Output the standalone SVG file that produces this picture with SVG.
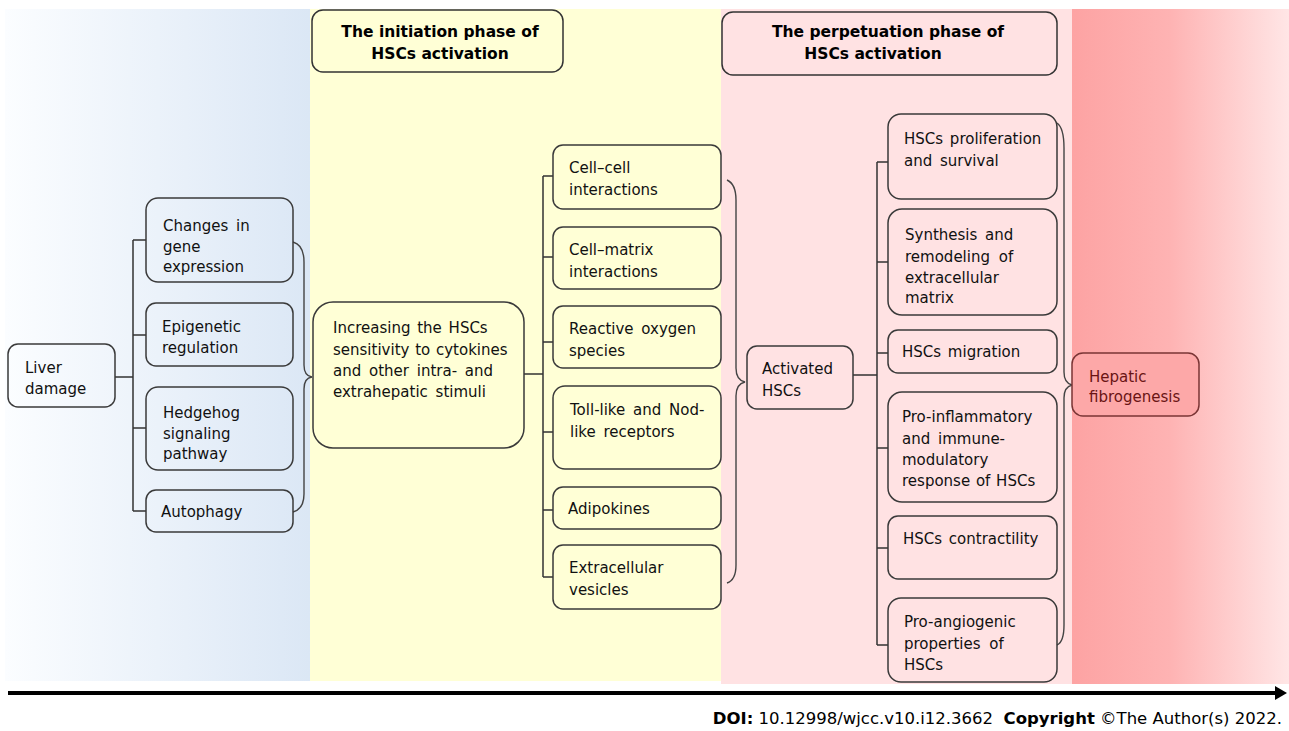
<svg xmlns="http://www.w3.org/2000/svg" width="1289" height="731" viewBox="0 0 1289 731">
<defs>
<linearGradient id="gBlue" x1="0" y1="0" x2="1" y2="0">
<stop offset="0" stop-color="#fbfdff"/>
<stop offset="1" stop-color="#dbe7f5"/>
</linearGradient>
<linearGradient id="gRed" x1="0" y1="0" x2="1" y2="0">
<stop offset="0" stop-color="#fda3a3"/>
<stop offset="0.45" stop-color="#feb3b3"/>
<stop offset="1" stop-color="#ffe6e6"/>
</linearGradient>
<marker id="arrowHead" markerWidth="12" markerHeight="14" refX="1" refY="7" orient="auto" markerUnits="userSpaceOnUse">
<path d="M0,0 L12,7 L0,14 Z" fill="#000"/>
</marker>
<style>
.box{fill:none;stroke:#3a3a3a;stroke-width:1.5}
.hdr{stroke:#333;stroke-width:1.5}
.t{font-family:"DejaVu Sans",Verdana,sans-serif;font-size:15px;fill:#111}
.h{font-family:"DejaVu Sans",Verdana,sans-serif;font-size:15.5px;font-weight:bold;fill:#000;text-anchor:middle}
.c{fill:none;stroke:#333;stroke-width:1.5}
.br{fill:none;stroke:#444;stroke-width:1.4}
</style>
</defs>

<g id="background">
<rect x="5" y="9" width="305" height="672" fill="url(#gBlue)"/>
<rect x="310" y="9" width="411" height="672" fill="#ffffd6"/>
<rect x="721" y="9" width="351" height="675" fill="#ffe2e3"/>
<rect x="1072" y="9" width="217" height="675" fill="url(#gRed)"/>
</g>

<g id="header-initiation">
<rect class="hdr" x="312" y="10" width="251" height="62" rx="11" fill="#ffffd6"/>
<text class="h" x="440" y="37">The initiation phase of</text>
<text class="h" x="440" y="59">HSCs activation</text>
</g>
<g id="header-perpetuation">
<rect class="hdr" x="722" y="12" width="335" height="63" rx="11" fill="#ffe2e3"/>
<text class="h" x="888" y="37">The perpetuation phase of</text>
<text class="h" x="873" y="59">HSCs activation</text>
</g>

<g id="connectors">
<path class="c" d="M115,377 H133 M133,240 V511 M133,240 H146 M133,335 H146 M133,428 H146 M133,511 H146"/>
<path class="br" d="M293,242 Q304,245 304,262 L304,365 Q304,376 312,377 Q304,378 304,389 L304,494 Q304,509 293,512"/>
<path class="c" d="M524,374 H543 M543,176 V577 M543,176 H553 M543,257 H553 M543,342 H553 M543,432 H553 M543,510 H553 M543,577 H553"/>
<path class="br" d="M727,180 Q736,184 736,200 L736,368 Q736,380 745,382 Q736,384 736,396 L736,565 Q736,580 727,583"/>
<path class="c" d="M853,375 H877 M877,162 V645 M877,162 H888 M877,262 H888 M877,353 H888 M877,448 H888 M877,548 H888 M877,645 H888"/>
<path class="br" d="M1057,123 Q1064,128 1064,148 L1064,372 Q1064,383 1072,385 Q1064,387 1064,398 L1064,625 Q1064,642 1057,645"/>
<line x1="8" y1="693" x2="1276" y2="693" stroke="#000" stroke-width="4" marker-end="url(#arrowHead)"/>
</g>

<g id="node-liver-damage">
<rect class="box" x="8" y="344" width="107" height="63" rx="10"/>
<text class="t" x="25" y="373">Liver</text>
<text class="t" x="25" y="394">damage</text>
</g>
<g id="node-gene-expression">
<rect class="box" x="146" y="198" width="147" height="84" rx="12"/>
<text class="t" x="163" y="231" word-spacing="3">Changes in</text>
<text class="t" x="163" y="252">gene</text>
<text class="t" x="163" y="272">expression</text>
</g>
<g id="node-epigenetic">
<rect class="box" x="146" y="303" width="147" height="63" rx="10"/>
<text class="t" x="162" y="332">Epigenetic</text>
<text class="t" x="162" y="353">regulation</text>
</g>
<g id="node-hedgehog">
<rect class="box" x="146" y="387" width="147" height="83" rx="12"/>
<text class="t" x="163" y="418">Hedgehog</text>
<text class="t" x="163" y="439">signaling</text>
<text class="t" x="163" y="459">pathway</text>
</g>
<g id="node-autophagy">
<rect class="box" x="146" y="490" width="147" height="42" rx="10"/>
<text class="t" x="161" y="517">Autophagy</text>
</g>

<g id="node-sensitivity">
<rect class="box" x="313" y="302" width="211" height="146" rx="20"/>
<text class="t" x="333" y="333" word-spacing="2">Increasing the HSCs</text>
<text class="t" x="333" y="355" word-spacing="1">sensitivity to cytokines</text>
<text class="t" x="333" y="376" word-spacing="3">and other intra- and</text>
<text class="t" x="333" y="397" word-spacing="3">extrahepatic stimuli</text>
</g>

<g id="node-cell-cell">
<rect class="box" x="553" y="145" width="168" height="64" rx="10"/>
<text class="t" x="569" y="173">Cell–cell</text>
<text class="t" x="569" y="195">interactions</text>
</g>
<g id="node-cell-matrix">
<rect class="box" x="553" y="227" width="168" height="62" rx="10"/>
<text class="t" x="569" y="255">Cell–matrix</text>
<text class="t" x="569" y="277">interactions</text>
</g>
<g id="node-ros">
<rect class="box" x="553" y="306" width="168" height="62" rx="10"/>
<text class="t" x="569" y="334" word-spacing="3">Reactive oxygen</text>
<text class="t" x="569" y="356">species</text>
</g>
<g id="node-tlr">
<rect class="box" x="553" y="386" width="168" height="83" rx="12"/>
<text class="t" x="570" y="415" word-spacing="3">Toll-like and Nod-</text>
<text class="t" x="570" y="437" word-spacing="3">like receptors</text>
</g>
<g id="node-adipokines">
<rect class="box" x="553" y="487" width="168" height="42" rx="10"/>
<text class="t" x="568" y="514">Adipokines</text>
</g>
<g id="node-vesicles">
<rect class="box" x="553" y="545" width="168" height="64" rx="10"/>
<text class="t" x="569" y="573">Extracellular</text>
<text class="t" x="569" y="595">vesicles</text>
</g>

<g id="node-activated-hscs">
<rect class="box" x="747" y="346" width="106" height="63" rx="10"/>
<text class="t" x="762" y="374">Activated</text>
<text class="t" x="762" y="396">HSCs</text>
</g>

<g id="node-proliferation">
<rect class="box" x="888" y="114" width="169" height="85" rx="13"/>
<text class="t" x="904" y="144" word-spacing="2">HSCs proliferation</text>
<text class="t" x="904" y="166" word-spacing="3">and survival</text>
</g>
<g id="node-ecm">
<rect class="box" x="888" y="209" width="169" height="106" rx="14"/>
<text class="t" x="905" y="240" word-spacing="3">Synthesis and</text>
<text class="t" x="905" y="262" word-spacing="4">remodeling of</text>
<text class="t" x="905" y="283">extracellular</text>
<text class="t" x="905" y="303">matrix</text>
</g>
<g id="node-migration">
<rect class="box" x="888" y="330" width="169" height="43" rx="10"/>
<text class="t" x="902" y="357" word-spacing="2">HSCs migration</text>
</g>
<g id="node-inflammatory">
<rect class="box" x="888" y="392" width="169" height="110" rx="14"/>
<text class="t" x="902" y="422">Pro-inflammatory</text>
<text class="t" x="902" y="444" word-spacing="3">and immune-</text>
<text class="t" x="902" y="465">modulatory</text>
<text class="t" x="902" y="486" word-spacing="1">response of HSCs</text>
</g>
<g id="node-contractility">
<rect class="box" x="888" y="516" width="169" height="63" rx="10"/>
<text class="t" x="903" y="544" word-spacing="2">HSCs contractility</text>
</g>
<g id="node-angiogenic">
<rect class="box" x="888" y="598" width="169" height="84" rx="13"/>
<text class="t" x="904" y="627">Pro-angiogenic</text>
<text class="t" x="904" y="649" word-spacing="4">properties of</text>
<text class="t" x="904" y="670">HSCs</text>
</g>

<g id="node-hepatic-fibrogenesis">
<rect x="1072" y="353" width="127" height="63" rx="11" fill="#fda8a8" stroke="#7a3535" stroke-width="1.5"/>
<text class="t" x="1089" y="382" style="fill:#6a1414">Hepatic</text>
<text class="t" x="1089" y="402" style="fill:#6a1414">fibrogenesis</text>
</g>

<g id="footer">
<text x="1282" y="724" text-anchor="end" font-family="DejaVu Sans, Verdana, sans-serif" font-size="16.5" fill="#000" xml:space="preserve"><tspan font-weight="bold">DOI:</tspan> 10.12998/wjcc.v10.i12.3662  <tspan font-weight="bold">Copyright</tspan> ©The Author(s) 2022.</text>
</g>
</svg>
